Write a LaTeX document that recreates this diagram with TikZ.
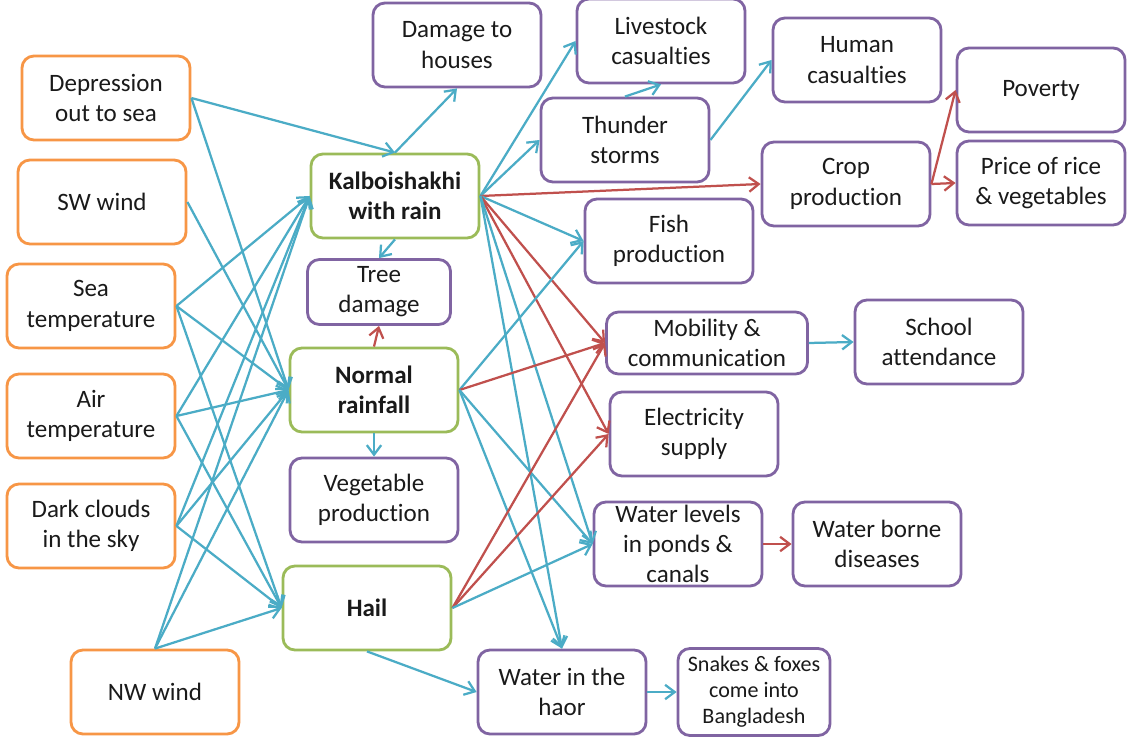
\documentclass[tikz,border=0pt]{standalone}
\usepackage{fontspec}
\setmainfont{Carlito}[Ligatures=NoCommon]
\usetikzlibrary{arrows.meta}
\definecolor{causeorange}{HTML}{F79646}
\definecolor{eventgreen}{HTML}{9BBB59}
\definecolor{impactpurple}{HTML}{8064A2}
\definecolor{linkblue}{HTML}{4BACC6}
\definecolor{linkred}{HTML}{C0504D}
\definecolor{textgray}{HTML}{1A1A1A}

\begin{document}
\begin{tikzpicture}[x=0.025cm, y=-0.025cm,
	box/.style={draw, rounded corners=0.3cm, line width=2pt, fill=white, text=textgray, align=center, minimum width=4.2cm, minimum height=2.1cm, inner sep=2pt, font=\fontsize{17.8}{21.5}\selectfont},
	cause/.style={box, draw=causeorange},
	event/.style={box, draw=eventgreen, font=\fontsize{17.8}{21.5}\selectfont\bfseries},
	impact/.style={box, draw=impactpurple},
	bluelink/.style={draw=linkblue, line width=1.6pt, -{Straight Barb[length=2.4mm, width=3.6mm]}},
	redlink/.style={draw=linkred, line width=1.6pt, -{Straight Barb[length=2.4mm, width=3.6mm]}}]
	\path[use as bounding box, fill=white] (0, 0) rectangle (1129, 740);
	% Causes:
	\node[cause] (dep) at (106, 98) {Depression\\out to sea};
	\node[cause] (sw) at (102, 202) {SW wind};
	\node[cause] (seat) at (91, 306) {Sea\\temperature};
	\node[cause] (airt) at (91, 416) {Air\\temperature};
	\node[cause] (dark) at (91, 526) {Dark clouds\\in the sky};
	\node[cause] (nw) at (155, 692) {NW wind};
	% Events:
	\node[event] (kalb) at (395, 196) {Kalboishakhi\\with rain};
	\node[event] (normal) at (374, 390) {Normal\\rainfall};
	\node[event] (hail) at (367, 608) {Hail};
	% Impacts:
	\node[impact, minimum width=3.575cm, minimum height=1.625cm, inner sep=0pt] (tree) at (379, 292) {Tree\\damage};
	\node[impact] (veg) at (374, 500) {Vegetable\\production};
	\node[impact] (houses) at (457, 45) {Damage to\\houses};
	\node[impact] (live) at (661, 41) {Livestock\\casualties};
	\node[impact] (thunder) at (625, 140) {Thunder\\storms};
	\node[impact] (human) at (857, 60) {Human\\casualties};
	\node[impact] (poverty) at (1041, 90) {Poverty};
	\node[impact] (crop) at (846, 184) {Crop\\production};
	\node[impact] (price) at (1041, 183) {Price of rice\\\& vegetables};
	\node[impact] (fish) at (669, 241) {Fish\\production};
	\node[impact, minimum width=5.025cm, minimum height=1.55cm, inner sep=1pt] (mob) at (707, 343) {Mobility \&\\communication};
	\node[impact] (school) at (939, 342) {School\\attendance};
	\node[impact] (elec) at (694, 434) {Electricity\\supply};
	\node[impact, label={[align=center, text=textgray, font=\fontsize{17.8}{21.5}\selectfont]center:Water levels\\in ponds \&\\canals}] (wlev) at (678, 544) {};
	\node[impact] (wborne) at (877, 544) {Water borne\\diseases};
	\node[impact] (haor) at (562, 692) {Water in the\\haor};
	\node[impact, minimum width=3.8cm, minimum height=2.175cm, font=\fontsize{15.7}{18.6}\selectfont] (snakes) at (754, 692) {Snakes \& foxes\\come into\\Bangladesh};
	% Links from the causes:
	\draw[bluelink] (dep.east) -- (kalb.north);
	\draw[bluelink] (dep.east) -- (normal.west);
	\draw[bluelink] (sw.east) -- (normal.west);
	\draw[bluelink] (seat.east) -- (kalb.west);
	\draw[bluelink] (seat.east) -- (normal.west);
	\draw[bluelink] (seat.east) -- (hail.west);
	\draw[bluelink] (airt.east) -- (kalb.west);
	\draw[bluelink] (airt.east) -- (normal.west);
	\draw[bluelink] (airt.east) -- (hail.west);
	\draw[bluelink] (dark.east) -- (kalb.west);
	\draw[bluelink] (dark.east) -- (normal.west);
	\draw[bluelink] (dark.east) -- (hail.west);
	\draw[bluelink] (nw.north) -- (kalb.west);
	\draw[bluelink] (nw.north) -- (normal.west);
	\draw[bluelink] (nw.north) -- (hail.west);
	% Links from Kalboishakhi:
	\draw[bluelink] (kalb.north) -- (houses.south);
	\draw[bluelink] (kalb.south) -- (tree.north);
	\draw[bluelink] (kalb.east) -- (live.west);
	\draw[bluelink] (kalb.east) -- (thunder.west);
	\draw[redlink] (kalb.east) -- (crop.west);
	\draw[bluelink] (kalb.east) -- (fish.west);
	\draw[redlink] (kalb.east) -- (mob.west);
	\draw[redlink] (kalb.east) -- (elec.west);
	\draw[bluelink] (kalb.east) -- (wlev.west);
	\draw[bluelink] (kalb.east) -- (haor.north);
	% Links from normal rainfall:
	\draw[redlink] (normal.north) -- (tree.south);
	\draw[bluelink] (normal.south) -- (veg.north);
	\draw[bluelink] (normal.east) -- (fish.west);
	\draw[redlink] (normal.east) -- (mob.west);
	\draw[bluelink] (normal.east) -- (wlev.west);
	\draw[bluelink] (normal.east) -- (haor.north);
	% Links from hail:
	\draw[redlink] (hail.east) -- (mob.west);
	\draw[redlink] (hail.east) -- (elec.west);
	\draw[bluelink] (hail.east) -- (wlev.west);
	\draw[bluelink] (hail.south) -- (haor.west);
	% Knock-on links:
	\draw[bluelink] (thunder.north) -- (live.south);
	\draw[bluelink] (thunder.east) -- (human.west);
	\draw[redlink] (crop.east) -- (poverty.west);
	\draw[redlink] (crop.east) -- (price.west);
	\draw[bluelink] (mob.east) -- (school.west);
	\draw[redlink] (wlev.east) -- (wborne.west);
	\draw[bluelink] (haor.east) -- (snakes.west);
\end{tikzpicture}
\end{document}
